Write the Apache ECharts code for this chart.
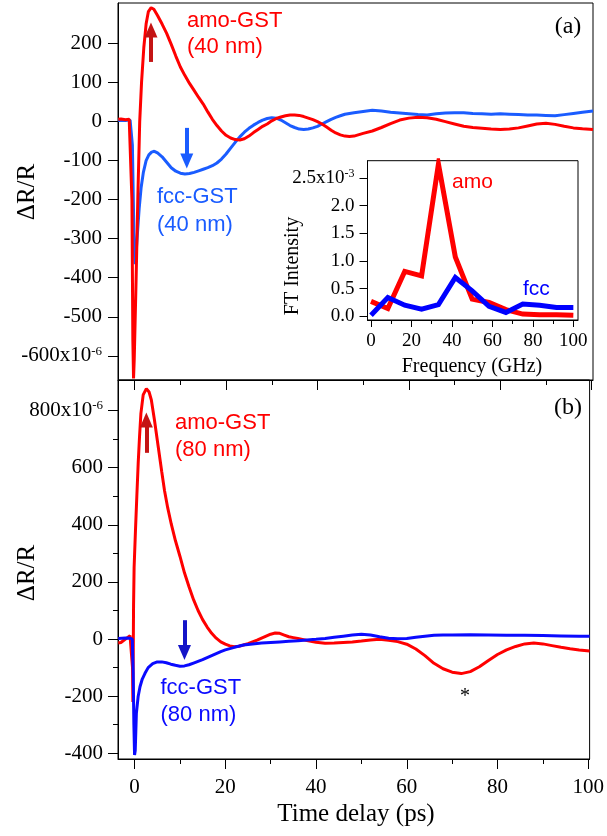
<!DOCTYPE html>
<html>
<head>
<meta charset="utf-8">
<script src="https://cdn.jsdelivr.net/npm/echarts@6/dist/echarts.min.js"></script>
<style>
html,body{margin:0;padding:0;background:#fff;}
#chart{width:607px;height:836px;}
</style>
</head>
<body>
<div id="chart"></div>
<script>
// ---------- data (time in ps, values in units of 1e-6) ----------
const amo40 = [[-3.6,6],[-3,7],[-2,5],[-1.2,6],[-0.8,5],[-0.6,-200],[-0.4,-560],[-0.25,-658],[-0.1,-610],[0.3,-410],[0.7,-190],[1.1,0],[1.5,100],[2,190],[2.5,250],[3,282],[3.6,292],[4.2,288],[5,272],[6,250],[7,226],[8,198],[9,168],[10,140],[11,118],[12,98],[13,80],[14,62],[15,45],[16,25],[17,6],[18,-10],[19,-24],[20,-35],[21,-42],[22,-46],[23,-47],[24,-44],[25,-37],[26,-28],[27,-20],[28,-12],[29,-6],[30,2],[31,8],[32,12],[33,15],[34,17],[35,17],[36,16],[37,13],[38,9],[39,5],[40,0],[41,-6],[42,-14],[43,-22],[44,-29],[45,-34],[46,-37],[47,-38],[48,-37],[50,-30],[52,-24],[54,-15],[56,-5],[58,4],[60,9],[62,11],[64,10],[66,6],[68,0],[70,-6],[72,-12],[74,-15],[76,-17],[78,-19],[80,-20],[82,-19],[84,-16],[86,-11],[88,-6],[90,-4],[92,-7],[94,-12],[96,-16],[98,-18],[100.3,-20]];
const fcc40 = [[-3.6,3],[-2,3],[-1,4],[-0.7,2],[-0.5,-60],[-0.3,-200],[-0.1,-330],[0.1,-365],[0.35,-330],[0.7,-270],[1,-220],[1.4,-170],[1.9,-130],[2.5,-100],[3.1,-85],[3.7,-78],[4.3,-76],[5,-80],[6,-90],[7,-104],[8,-118],[9,-127],[10,-132],[11,-134],[12,-133],[13,-130],[14,-126],[15,-122],[16,-118],[17,-113],[18,-106],[19,-96],[20,-83],[21,-68],[22,-53],[23,-39],[24,-27],[25,-17],[26,-9],[27,-2],[28,4],[29,8],[30,10],[31,9],[32,4],[33,-3],[34,-10],[35,-15],[36,-19],[37,-20],[38,-19],[39,-16],[40,-12],[41,-6],[42,0],[43,6],[44,11],[45,15],[46,19],[48,23],[50,26],[52,29],[54,27],[56,24],[58,22],[60,20],[62,18],[64,17],[66,20],[68,22],[70,23],[72,23],[74,21],[76,20],[78,19],[80,20],[82,19],[84,18],[86,17],[88,17],[90,16],[92,15],[94,18],[96,21],[98,24],[100.3,27]];
const amo80 = [[-3.6,-14],[-3,-12],[-2.5,-6],[-2,0],[-1.5,6],[-1,12],[-0.6,15],[-0.45,-100],[-0.37,-220],[-0.3,-80],[-0.22,120],[-0.1,250],[0.2,380],[0.5,500],[0.8,615],[1.1,710],[1.4,790],[1.9,855],[2.6,877],[3.2,865],[3.7,837],[4.4,765],[5.2,675],[6,585],[6.6,520],[7.3,460],[8.1,402],[9,345],[10,290],[11,232],[12,183],[13,138],[14,100],[15,68],[16,42],[17,20],[18,3],[19,-10],[20,-18],[21,-24],[22,-27],[23,-25],[24,-21],[25,-16],[26,-10],[27,-4],[28,3],[29,10],[30,17],[31,21],[32,20],[33,14],[34,8],[35,5],[36,2],[38,-5],[40,-11],[42,-15],[44,-14],[46,-12],[48,-10],[50,-7],[52,-3],[54,-1],[56,-4],[58,-9],[60,-18],[62,-35],[64,-58],[66,-85],[68,-104],[70,-116],[72,-121],[74,-114],[76,-97],[78,-75],[80,-54],[82,-38],[84,-26],[86,-17],[88,-14],[90,-17],[92,-23],[94,-29],[96,-34],[98,-38],[100.3,-42]];
const fcc80 = [[-3.6,2],[-2,4],[-1,3],[-0.5,0],[-0.3,-120],[-0.15,-300],[0,-406],[0.15,-390],[0.4,-260],[0.8,-200],[1.2,-167],[1.7,-140],[2.3,-120],[3,-100],[4,-86],[5,-80],[6,-80],[7,-83],[8,-88],[9,-92],[10,-95],[11,-94],[12,-90],[13,-84],[14,-78],[15,-72],[16,-65],[17,-58],[18,-51],[19,-44],[20,-38],[22,-29],[24,-21],[26,-17],[28,-14],[30,-12],[32,-10],[34,-8],[36,-6],[38,-3],[40,-1],[42,2],[44,6],[46,10],[48,14],[50,17],[52,14],[54,8],[56,3],[58,1],[60,2],[62,6],[64,10],[66,13],[68,14],[70,14],[74,15],[78,14],[82,13],[86,13],[90,12],[94,11],[98,10],[100.3,10]];

// inset: FT spectra (frequency in GHz, intensity in units of 1e-3)
const freqGHz = [0,8.33,16.67,25,33.33,41.67,50,58.33,66.67,75,83.33,91.67,100];
const amoFT   = [0.27,0.14,0.81,0.73,2.75,1.07,0.31,0.25,0.12,0.04,0.03,0.03,0.02];
const fccFT   = [0.02,0.34,0.20,0.13,0.21,0.70,0.46,0.18,0.07,0.22,0.20,0.16,0.16];

// tick values
const timeMajorTicks = [0,20,40,60,80,100];
const timeMinorTicks = [10,30,50,70,90];
const yTicksA = [-600,-500,-400,-300,-200,-100,0,100,200];
const yMajorB = [-400,-200,0,200,400,600,800];
const yMinorB = [-300,-100,100,300,500,700];
const freqMajorTicks = [0,20,40,60,80,100];
const freqMinorTicks = [10,30,50,70,90];
const ftTicks = [0,0.5,1.0,1.5,2.0,2.5];

// ---------- chart ----------
const SERIF_F = 'Liberation Serif';
const SERIF = "'Liberation Serif','Times New Roman',serif";
const SANS = "'Liberation Sans',Arial,sans-serif";
const RED = '#ff0000';
const BLUE_A = '#1a5cff';
const BLUE_B = '#0a0aff';
const DARKRED = '#c41414';
const DARKBLUE = '#1414c8';

const chart = echarts.init(document.getElementById('chart'), null, {renderer:'canvas'});

function xAx(grid, min, max, ticks, len, labels, fs, margin, line) {
  return {
    type:'value', gridIndex:grid, min:min, max:max, position:'bottom',
    axisLine:{show:line, onZero:false, lineStyle:{color:'#000', width:1}},
    axisTick:{show:true, inside:false, length:len, customValues:ticks, lineStyle:{color:'#000', width:1}},
    axisLabel:{show:labels, customValues:ticks, color:'#000', fontFamily:SERIF_F, fontSize:fs, margin:margin,
               formatter:function (v) { return '{n|' + v + '}'; },
               rich:{n:{fontFamily:SERIF_F, fontSize:fs, color:'#000'}}},
    splitLine:{show:false}
  };
}
function yAx(grid, min, max, ticks, len, labels, line, extra) {
  const a = {
    type:'value', gridIndex:grid, min:min, max:max, position:'left',
    axisLine:{show:line, onZero:false, lineStyle:{color:'#000', width:1}},
    axisTick:{show:true, inside:false, length:len, customValues:ticks, lineStyle:{color:'#000', width:1}},
    axisLabel:{show:labels, customValues:ticks, color:'#000', fontFamily:SERIF_F},
    splitLine:{show:false}
  };
  if (extra) Object.assign(a.axisLabel, extra);
  return a;
}
function fmt(v, unit) { return unit ? v.toFixed(1) : String(Math.round(v)); }
function supLabel(base, sup, unit) {
  return function (v) {
    if (Math.abs(v - sup) < 1e-9) return '{n|' + fmt(v, unit) + 'x10}{s|' + base + '}';
    return '{n|' + fmt(v, unit) + '}';
  };
}
function richFor(fs, sfs) {
  return {
    n:{fontFamily:SERIF_F, fontSize:fs, color:'#000', lineHeight:fs + 1},
    s:{fontFamily:SERIF_F, fontSize:sfs, color:'#000', verticalAlign:'top', lineHeight:fs + 1}
  };
}

function arrow(x, y0, y1, color) {
  return {
    silent:true, animation:false, symbol:['none','triangle'], symbolSize:[13,15],
    label:{show:false}, emphasis:{disabled:true},
    lineStyle:{color:color, width:4, type:'solid'},
    itemStyle:{color:color},
    data:[[{coord:[x,y0]},{coord:[x,y1]}]]
  };
}

function txt(text, x, y, color, font, align, rot) {
  return {
    type:'text', x:x, y:y, rotation:rot || 0, silent:true, z:100,
    style:{text:text, fill:color, font:font, textAlign:align || 'left', textVerticalAlign:'middle'}
  };
}

const option = {
  animation:false,
  backgroundColor:'#fff',
  textStyle:{fontFamily:SERIF_F},
  grid:[
    {left:118, top:3, width:475, height:377, show:true, borderColor:'#000', borderWidth:1, backgroundColor:'transparent'},
    {left:118, top:380, width:475, height:379, show:true, borderColor:'#000', borderWidth:1, backgroundColor:'transparent'},
    {left:367.5, top:160.7, width:210.5, height:159.3, show:true, borderColor:'#000', borderWidth:1, backgroundColor:'#fff', z:5}
  ],
  xAxis:[
    xAx(0, -3.65, 100.3, timeMajorTicks, 10, false, 21, 19, true),
    xAx(0, -3.65, 100.3, timeMinorTicks, 5, false, 21, 19, false),
    xAx(1, -3.65, 100.3, timeMajorTicks, 10, true, 21, 18, true),
    xAx(1, -3.65, 100.3, timeMinorTicks, 5, false, 21, 18, false),
    Object.assign(xAx(2, -1.73, 102.3, freqMajorTicks, 7, true, 19, 12, true), {z:6}),
    Object.assign(xAx(2, -1.73, 102.3, freqMinorTicks, 4, false, 19, 12, false), {z:6})
  ],
  yAxis:[
    yAx(0, -662, 304, yTicksA, 10, true, true, {margin:16, formatter:supLabel('-6', -600, false), rich:richFor(21, 13)}),
    yAx(1, -420, 907, yMajorB, 10, true, true, {margin:15, formatter:supLabel('-6', 800, false), rich:richFor(21, 13)}),
    yAx(1, -420, 907, yMinorB, 5, false, false),
    Object.assign(yAx(2, -0.067, 2.81, ftTicks, 8, true, true, {margin:13, formatter:supLabel('-3', 2.5, true), rich:richFor(19, 12)}), {z:6})
  ],
  series:[
    {type:'line', name:'fcc-GST (40 nm)', xAxisIndex:0, yAxisIndex:0, data:fcc40, showSymbol:false, symbol:'none',
     lineStyle:{color:BLUE_A, width:3}, itemStyle:{color:BLUE_A}, z:2, markLine:arrow(11.4, -16, -101, BLUE_A)},
    {type:'line', name:'amo-GST (40 nm)', xAxisIndex:0, yAxisIndex:0, data:amo40, showSymbol:false, symbol:'none',
     lineStyle:{color:RED, width:3}, itemStyle:{color:RED}, z:3, markLine:arrow(3.57, 153, 235, DARKRED)},
    {type:'line', name:'amo-GST (80 nm)', xAxisIndex:2, yAxisIndex:1, data:amo80, showSymbol:false, symbol:'none',
     lineStyle:{color:RED, width:3}, itemStyle:{color:RED}, z:2, markLine:arrow(2.6, 652, 767, DARKRED)},
    {type:'line', name:'fcc-GST (80 nm)', xAxisIndex:2, yAxisIndex:1, data:fcc80, showSymbol:false, symbol:'none',
     lineStyle:{color:BLUE_B, width:3}, itemStyle:{color:BLUE_B}, z:3, markLine:arrow(11.0, 66, -47, DARKBLUE)},
    {type:'line', name:'amo', xAxisIndex:4, yAxisIndex:3, data:freqGHz.map((f,i)=>[f, amoFT[i]]), showSymbol:false, symbol:'none',
     lineStyle:{color:RED, width:5, join:'miter'}, itemStyle:{color:RED}, z:7},
    {type:'line', name:'fcc', xAxisIndex:4, yAxisIndex:3, data:freqGHz.map((f,i)=>[f, fccFT[i]]), showSymbol:false, symbol:'none',
     lineStyle:{color:'#0000ff', width:5, join:'miter'}, itemStyle:{color:'#0000ff'}, z:8}
  ],
  graphic:[
    txt('amo-GST', 187, 21, RED, '22px ' + SANS),
    txt('(40 nm)', 187, 47, RED, '22px ' + SANS),
    txt('fcc-GST', 157, 197, BLUE_A, '22px ' + SANS),
    txt('(40 nm)', 157, 225, BLUE_A, '22px ' + SANS),
    txt('amo-GST', 175, 423, RED, '22px ' + SANS),
    txt('(80 nm)', 175, 450, RED, '22px ' + SANS),
    txt('fcc-GST', 160.5, 688, BLUE_B, '22px ' + SANS),
    txt('(80 nm)', 160.5, 715, BLUE_B, '22px ' + SANS),
    txt('(a)', 568, 27, '#000', '24px ' + SERIF, 'center'),
    txt('(b)', 568, 408, '#000', '24px ' + SERIF, 'center'),
    txt('*', 465, 697, '#000', '20px ' + SERIF, 'center'),
    txt('amo', 452, 182, RED, '21px ' + SANS),
    txt('fcc', 523, 289, '#0000ff', '21px ' + SANS),
    txt('ΔR/R', 27.5, 192, '#000', '25px ' + SERIF, 'center', Math.PI/2),
    txt('ΔR/R', 27.5, 573, '#000', '25px ' + SERIF, 'center', Math.PI/2),
    txt('Time delay (ps)', 356, 814.5, '#000', '25px ' + SERIF, 'center'),
    txt('FT Intensity', 293, 266, '#000', '20px ' + SERIF, 'center', Math.PI/2),
    txt('Frequency (GHz)', 472, 366.5, '#000', '20px ' + SERIF, 'center')
  ]
};
chart.setOption(option);
</script>
</body>
</html>
